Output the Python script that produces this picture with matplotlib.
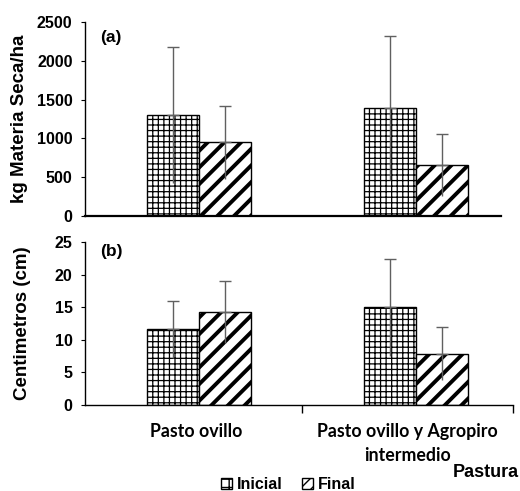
import matplotlib
matplotlib.use('Agg')
import matplotlib.pyplot as plt
from matplotlib.patches import Patch
import numpy as np

pasturas = ['Pasto ovillo', 'Pasto ovillo y Agropiro\nintermedio']
series = ['Inicial', 'Final']

# (a) kg materia seca / ha
ms_inicial = [1300, 1390]
ms_final = [950, 660]
ms_inicial_err = [880, 930]
ms_final_err = [470, 400]

# (b) altura en cm
cm_inicial = [11.6, 15.0]
cm_final = [14.3, 7.9]
cm_inicial_err = [4.4, 7.4]
cm_final_err = [4.8, 4.1]

plt.rcParams['font.family'] = ['Liberation Sans', 'DejaVu Sans']
plt.rcParams['font.weight'] = 'bold'

fig = plt.figure(figsize=(5.2, 4.91), dpi=100)
ax_a = fig.add_axes([0.1635, 0.560, 0.823, 0.395])
ax_b = fig.add_axes([0.1635, 0.175, 0.823, 0.332])

x = np.arange(len(pasturas))
w = 0.24
xmin, xmax = -0.525, 1.447


def draw_panel(ax, ini, fin, ini_err, fin_err):
    b1 = ax.bar(x - w / 2, ini, w, color='white', edgecolor='black', linewidth=1.0, hatch='+++', zorder=2)
    b2 = ax.bar(x + w / 2, fin, w, color='white', edgecolor='black', linewidth=1.0, hatch='//', zorder=2)
    for p in b1:
        if hasattr(p, 'set_hatch_linewidth'):
            p.set_hatch_linewidth(0.9)
    for p in b2:
        if hasattr(p, 'set_hatch_linewidth'):
            p.set_hatch_linewidth(2.8)
    for xs, vals, errs in [(x - w / 2, ini, ini_err), (x + w / 2, fin, fin_err)]:
        vals = np.array(vals)
        errs = np.array(errs)
        ax.errorbar(xs, vals, yerr=[np.zeros_like(errs), errs], fmt='none', ecolor='#606060',
                    elinewidth=1.0, capsize=4, capthick=1.0, zorder=3)
        ax.vlines(xs, vals - errs, vals, color='#606060', linewidth=1.0, zorder=3)
    ax.set_xlim(xmin, xmax)
    ax.spines['top'].set_visible(False)
    ax.spines['right'].set_visible(False)
    ax.spines['bottom'].set_linewidth(1.6)
    ax.spines['left'].set_linewidth(1.0)
    ax.tick_params(axis='y', direction='out', length=3, labelsize=11.5, pad=6)


draw_panel(ax_a, ms_inicial, ms_final, ms_inicial_err, ms_final_err)
ax_a.set_ylim(0, 2500)
ax_a.set_yticks([0, 500, 1000, 1500, 2000, 2500])
ax_a.set_xticks([])
ax_a.spines['bottom'].set_bounds(xmin, 1.39)
ax_a.set_ylabel('kg Materia Seca/ha', fontsize=13.5, fontweight='bold', labelpad=6)
ax_a.text(0.035, 0.923, '(a)', transform=ax_a.transAxes, fontsize=12.5, fontweight='bold', va='center')

draw_panel(ax_b, cm_inicial, cm_final, cm_inicial_err, cm_final_err)
ax_b.set_ylim(0, 25)
ax_b.set_yticks([0, 5, 10, 15, 20, 25])
ax_b.spines['bottom'].set_linewidth(1.0)
ax_b.set_xticks([0.475, xmax], minor=True)
ax_b.tick_params(axis='x', which='minor', direction='out', length=6, width=1)
ax_b.set_xticks([-0.015, 0.96])
ax_b.set_xticklabels(pasturas, family=['Lato', 'DejaVu Sans'], fontsize=12.8, fontweight='bold',
                     linespacing=1.5)
ax_b.tick_params(axis='x', which='major', length=0, pad=13)
ax_b.set_ylabel('Centimetros (cm)', fontsize=13.5, fontweight='bold', labelpad=17)
ax_b.text(0.035, 0.945, '(b)', transform=ax_b.transAxes, fontsize=12.5, fontweight='bold', va='center')

handles = [Patch(facecolor='white', edgecolor='black', hatch='++', label=series[0]),
           Patch(facecolor='white', edgecolor='black', hatch='///', label=series[1])]
fig.legend(handles=handles, loc='center', bbox_to_anchor=(0.555, 0.013), ncol=2, frameon=False,
           handlelength=0.7, handleheight=0.7, handletextpad=0.3, columnspacing=1.2,
           prop={'weight': 'bold', 'size': 11.5})
fig.text(0.997, 0.038, 'Pastura', ha='right', va='center', fontsize=13, fontweight='bold')

fig.savefig('out.png', dpi=100)
